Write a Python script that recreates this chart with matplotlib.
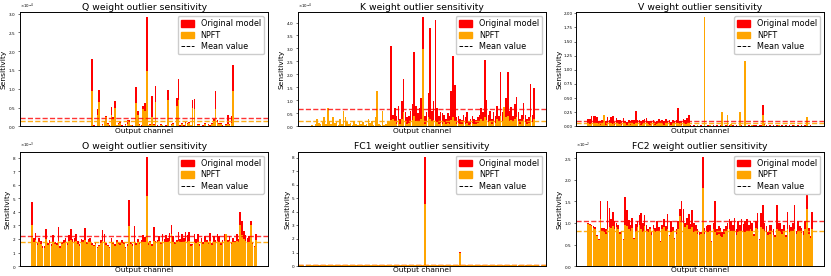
import numpy as np
import matplotlib.pyplot as plt
from matplotlib.patches import Patch
from matplotlib.lines import Line2D

# Sensitivity per output channel (128 channels), values in units of 10^exp
q_orig = [0.005] * 16 + [0.005] * 16 + [
    0.005, 0.005, 1.80, 0.03, 0.02, 0.45, 0.97, 0.02, 0.05, 0.15, 0.27, 0.08, 0.03, 0.52, 0.25, 0.68,
    0.04, 0.08, 0.13, 0.03, 0.02, 0.06, 0.17, 0.17, 0.04, 0.03, 0.02, 1.05, 0.42, 0.05, 0.03, 0.55,
    0.62, 2.90, 0.04, 0.06, 0.80, 0.05, 1.08, 0.03, 0.02, 0.06, 0.04, 0.02, 0.03, 0.97, 0.02, 0.05,
    0.08, 0.02, 0.75, 1.27, 0.03, 0.10, 0.03, 0.12, 0.10, 0.12, 0.04, 0.70, 0.72, 0.02, 0.05, 0.06,
    0.02, 0.03, 0.08, 0.02, 0.05, 0.03, 0.10, 0.20, 0.95, 0.18, 0.08, 0.10, 0.03, 0.02, 0.05, 0.30,
    0.06, 0.27, 1.63] + [0.005] * 13
q_npft = [0.003] * 16 + [0.003] * 16 + [
    0.003, 0.003, 0.95, 0.02, 0.01, 0.30, 0.65, 0.01, 0.03, 0.12, 0.25, 0.05, 0.02, 0.30, 0.20, 0.48,
    0.03, 0.05, 0.08, 0.02, 0.01, 0.04, 0.05, 0.12, 0.03, 0.02, 0.01, 0.63, 0.30, 0.03, 0.02, 0.45,
    0.40, 1.47, 0.03, 0.04, 0.25, 0.03, 0.65, 0.02, 0.01, 0.04, 0.03, 0.01, 0.02, 0.70, 0.01, 0.03,
    0.05, 0.01, 0.55, 0.70, 0.02, 0.07, 0.02, 0.08, 0.07, 0.08, 0.03, 0.50, 0.45, 0.01, 0.03, 0.04,
    0.01, 0.02, 0.05, 0.01, 0.03, 0.02, 0.07, 0.15, 0.45, 0.12, 0.05, 0.07, 0.02, 0.01, 0.03, 0.05,
    0.04, 0.10, 0.93] + [0.003] * 13

k_orig = [
    0.02, 0.03, 0.01, 0.05, 0.15, 0.08, 0.05, 0.10, 0.20, 0.06, 0.40, 0.12, 0.05, 0.20, 0.08, 0.10,
    0.03, 0.18, 0.06, 0.35, 0.22, 0.10, 0.05, 0.08, 0.03, 0.12, 0.06, 0.04, 0.12, 0.05, 0.10, 0.02,
    0.06, 0.18, 0.08, 0.12, 0.04, 0.20, 0.80, 0.06, 0.03, 0.35, 0.03, 0.05, 0.12, 0.10, 3.10, 0.45,
    0.72, 0.40, 0.78, 0.30, 0.98, 1.83, 0.55, 0.35, 0.40, 0.60, 0.88, 2.87, 0.80, 0.50, 0.70, 1.10,
    4.20, 0.40, 0.55, 1.30, 3.77, 0.60, 0.98, 4.10, 0.70, 0.40, 0.55, 0.50, 0.45, 0.30, 0.50, 0.40,
    1.35, 2.70, 1.60, 0.35, 0.40, 0.30, 0.25, 0.45, 0.35, 0.55, 0.20, 0.30, 0.40, 0.30, 0.25, 0.35,
    0.45, 0.70, 0.55, 2.57, 1.00, 0.45, 0.60, 0.30, 0.55, 0.40, 0.80, 0.40, 2.08, 0.55, 0.35, 1.10,
    2.08, 0.60, 0.75, 0.40, 0.85, 1.15, 0.55, 0.30, 0.45, 0.90, 0.45, 0.30, 0.35, 1.63, 0.45, 1.48]
k_npft = [
    0.03, 0.05, 0.02, 0.10, 0.28, 0.12, 0.08, 0.15, 0.35, 0.10, 0.70, 0.20, 0.08, 0.38, 0.12, 0.15,
    0.05, 0.30, 0.10, 0.60, 0.38, 0.15, 0.08, 0.12, 0.05, 0.20, 0.10, 0.06, 0.20, 0.08, 0.15, 0.04,
    0.10, 0.30, 0.12, 0.20, 0.06, 0.35, 1.35, 0.10, 0.05, 0.60, 0.05, 0.08, 0.20, 0.15, 0.25, 0.30,
    0.20, 0.10, 0.25, 0.08, 0.30, 0.55, 0.15, 0.10, 0.12, 0.20, 0.25, 0.40, 0.20, 0.15, 0.18, 0.30,
    2.97, 0.10, 0.15, 0.35, 0.30, 0.15, 0.25, 0.20, 0.15, 0.10, 0.12, 0.08, 0.15, 0.10, 0.12, 0.08,
    0.25, 0.35, 0.20, 0.10, 0.12, 0.08, 0.10, 0.15, 0.08, 0.12, 0.05, 0.10, 0.12, 0.08, 0.10, 0.12,
    0.15, 0.30, 0.20, 0.35, 0.25, 0.15, 0.20, 0.10, 0.15, 0.12, 0.30, 0.15, 0.40, 0.20, 0.75, 0.35,
    0.40, 0.20, 0.25, 0.15, 0.30, 0.35, 0.20, 0.10, 0.15, 0.30, 0.15, 0.10, 0.12, 0.35, 0.15, 0.30]

v_orig = [
    0.13, 0.13, 0.19, 0.18, 0.18, 0.17, 0.10, 0.09, 0.12, 0.15, 0.09, 0.16, 0.11, 0.17, 0.19, 0.08,
    0.15, 0.11, 0.12, 0.10, 0.14, 0.10, 0.08, 0.12, 0.10, 0.11, 0.12, 0.27, 0.11, 0.12, 0.09, 0.11,
    0.13, 0.15, 0.10, 0.09, 0.10, 0.12, 0.08, 0.10, 0.13, 0.10, 0.12, 0.09, 0.13, 0.10, 0.12, 0.08,
    0.11, 0.10, 0.12, 0.32, 0.10, 0.09, 0.13, 0.12, 0.14, 0.20, 0.02, 0.01, 0.02, 0.01, 0.03, 0.01,
    0.02, 0.01, 0.02, 0.01, 0.02, 0.03, 0.01, 0.02, 0.01, 0.02, 0.01, 0.02, 0.03, 0.01, 0.02, 0.01,
    0.02, 0.01, 0.02, 0.01, 0.02, 0.01, 0.03, 0.02, 0.01, 0.02, 0.01, 0.02, 0.01, 0.03, 0.02, 0.02,
    0.01, 0.02, 0.02, 0.37, 0.05, 0.02, 0.01, 0.02, 0.01, 0.02, 0.01, 0.02, 0.03, 0.01, 0.02, 0.01,
    0.02, 0.01, 0.02, 0.01, 0.02, 0.03, 0.01, 0.02, 0.01, 0.02, 0.01, 0.02, 0.03, 0.01, 0.02, 0.01]
v_npft = [
    0.05, 0.04, 0.06, 0.05, 0.05, 0.06, 0.04, 0.03, 0.04, 0.20, 0.03, 0.05, 0.04, 0.06, 0.05, 0.03,
    0.05, 0.04, 0.04, 0.03, 0.05, 0.04, 0.03, 0.04, 0.03, 0.04, 0.05, 0.06, 0.04, 0.05, 0.03, 0.04,
    0.05, 0.06, 0.04, 0.03, 0.04, 0.05, 0.03, 0.04, 0.05, 0.04, 0.05, 0.03, 0.05, 0.04, 0.05, 0.03,
    0.04, 0.04, 0.05, 0.06, 0.04, 0.03, 0.05, 0.04, 0.05, 0.06, 0.01, 0.01, 0.01, 0.01, 0.02, 0.01,
    0.01, 0.01, 1.93, 0.01, 0.01, 0.02, 0.01, 0.01, 0.01, 0.01, 0.01, 0.01, 0.25, 0.01, 0.01, 0.20,
    0.01, 0.05, 0.01, 0.01, 0.01, 0.01, 0.25, 0.01, 0.01, 1.15, 0.01, 0.01, 0.01, 0.02, 0.01, 0.01,
    0.01, 0.01, 0.01, 0.20, 0.02, 0.01, 0.01, 0.01, 0.01, 0.01, 0.01, 0.01, 0.02, 0.01, 0.01, 0.01,
    0.01, 0.01, 0.01, 0.01, 0.01, 0.02, 0.01, 0.01, 0.01, 0.01, 0.01, 0.01, 0.17, 0.01, 0.01, 0.01]

o_orig = [
    4.70, 2.10, 2.45, 1.70, 2.10, 1.85, 1.50, 1.45, 2.70, 1.70, 1.95, 1.60, 2.30, 1.80, 1.70, 2.85,
    1.45, 1.80, 1.90, 2.05, 1.70, 2.30, 2.75, 2.00, 2.05, 2.40, 1.85, 1.60, 2.00, 1.90, 2.80, 1.80,
    2.00, 2.05, 1.70, 1.55, 1.80, 1.40, 1.55, 1.90, 2.65, 2.40, 1.70, 1.55, 1.40, 2.10, 1.80, 1.65,
    1.95, 1.80, 1.70, 1.90, 1.75, 1.40, 1.60, 4.85, 1.80, 1.60, 2.95, 1.70, 2.00, 1.75, 1.90, 2.30,
    2.15, 8.05, 1.70, 1.85, 1.60, 2.90, 1.85, 1.90, 2.20, 1.75, 2.40, 2.00, 2.30, 2.10, 2.45, 3.00,
    2.20, 1.75, 1.95, 2.50, 2.00, 2.40, 2.10, 2.50, 2.30, 2.50, 1.60, 1.65, 2.40, 2.00, 2.40, 1.60,
    2.10, 1.75, 2.25, 1.95, 1.80, 2.45, 1.70, 2.20, 1.95, 2.40, 2.20, 1.70, 1.90, 2.40, 2.20, 1.95,
    2.25, 1.80, 2.10, 1.85, 2.40, 2.00, 4.00, 3.35, 2.60, 2.30, 2.10, 2.20, 3.30, 1.80, 1.50, 2.40]
o_npft = [
    3.00, 1.80, 1.90, 1.55, 1.75, 1.60, 1.35, 1.35, 2.00, 1.55, 1.70, 1.50, 1.80, 1.65, 1.55, 1.85,
    1.30, 1.60, 1.70, 1.75, 1.55, 1.85, 1.90, 1.75, 1.80, 1.85, 1.65, 1.50, 1.75, 1.70, 1.90, 1.60,
    1.75, 1.80, 1.55, 1.45, 1.65, 1.30, 1.45, 1.70, 1.85, 1.80, 1.55, 1.45, 1.30, 1.75, 1.60, 1.50,
    1.70, 1.65, 1.55, 1.70, 1.60, 1.30, 1.45, 2.95, 1.65, 1.50, 1.80, 1.55, 1.75, 1.60, 1.70, 1.80,
    1.80, 5.20, 1.55, 1.70, 1.50, 1.85, 1.70, 1.75, 1.85, 1.60, 1.85, 1.75, 1.80, 1.75, 1.85, 2.40,
    1.80, 1.60, 1.75, 1.85, 1.75, 1.80, 1.75, 1.85, 1.80, 1.85, 1.50, 1.55, 1.80, 1.70, 1.80, 1.50,
    1.75, 1.60, 1.80, 1.70, 1.65, 1.85, 1.55, 1.80, 1.70, 1.85, 1.80, 1.55, 1.70, 1.85, 2.35, 1.75,
    1.85, 1.65, 1.75, 1.70, 1.85, 1.75, 3.00, 2.30, 2.00, 1.85, 1.80, 1.75, 3.00, 1.65, 1.40, 1.95]

fc1_orig = [
    0.08, 0.09, 0.07, 0.08, 0.08, 0.09, 0.08, 0.07, 0.08, 0.09, 0.08, 0.08, 0.07, 0.08, 0.09, 0.08,
    0.08, 0.07, 0.08, 0.09, 0.08, 0.08, 0.07, 0.08, 0.09, 0.08, 0.08, 0.07, 0.08, 0.09, 0.08, 0.08,
    0.07, 0.08, 0.09, 0.08, 0.08, 0.07, 0.08, 0.09, 0.08, 0.08, 0.07, 0.08, 0.09, 0.08, 0.08, 0.07,
    0.08, 0.09, 0.08, 0.08, 0.07, 0.08, 0.09, 0.08, 0.08, 0.07, 0.08, 0.09, 0.08, 0.08, 0.07, 0.08,
    0.09, 8.05, 0.08, 0.07, 0.08, 0.09, 0.08, 0.08, 0.07, 0.08, 0.09, 0.08, 0.08, 0.07, 0.08, 0.09,
    0.08, 0.08, 0.07, 0.08, 0.09, 1.05, 0.08, 0.07, 0.08, 0.09, 0.08, 0.08, 0.07, 0.08, 0.09, 0.08,
    0.08, 0.07, 0.08, 0.09, 0.08, 0.08, 0.07, 0.08, 0.09, 0.08, 0.08, 0.07, 0.08, 0.09, 0.08, 0.08,
    0.07, 0.08, 0.09, 0.08, 0.08, 0.07, 0.08, 0.09, 0.08, 0.08, 0.07, 0.08, 0.09, 0.08, 0.08, 0.07]
fc1_npft = [
    0.06, 0.07, 0.05, 0.06, 0.06, 0.07, 0.06, 0.05, 0.06, 0.07, 0.06, 0.06, 0.05, 0.06, 0.07, 0.06,
    0.06, 0.05, 0.06, 0.07, 0.06, 0.06, 0.05, 0.06, 0.07, 0.06, 0.06, 0.05, 0.06, 0.07, 0.06, 0.06,
    0.05, 0.06, 0.07, 0.06, 0.06, 0.05, 0.06, 0.07, 0.06, 0.06, 0.05, 0.06, 0.07, 0.06, 0.06, 0.05,
    0.06, 0.07, 0.06, 0.06, 0.05, 0.06, 0.07, 0.06, 0.06, 0.05, 0.06, 0.07, 0.06, 0.06, 0.05, 0.06,
    0.07, 4.60, 0.06, 0.05, 0.06, 0.07, 0.06, 0.06, 0.05, 0.06, 0.07, 0.06, 0.06, 0.05, 0.06, 0.07,
    0.06, 0.06, 0.05, 0.06, 0.07, 0.95, 0.06, 0.05, 0.06, 0.07, 0.06, 0.06, 0.05, 0.06, 0.07, 0.06,
    0.06, 0.05, 0.06, 0.07, 0.06, 0.06, 0.05, 0.06, 0.07, 0.06, 0.06, 0.05, 0.06, 0.07, 0.06, 0.06,
    0.05, 0.06, 0.07, 0.06, 0.06, 0.05, 0.06, 0.07, 0.06, 0.06, 0.05, 0.06, 0.07, 0.06, 0.06, 0.05]

fc2_orig = [
    1.00, 0.98, 0.95, 0.92, 0.90, 0.72, 0.62, 1.52, 0.88, 0.88, 0.85, 1.52, 1.35, 1.10, 1.25, 1.05,
    1.00, 0.95, 0.80, 0.82, 0.62, 1.60, 1.30, 1.08, 0.95, 1.12, 0.65, 0.98, 1.05, 1.18, 1.22, 1.00,
    1.18, 0.95, 0.85, 0.90, 0.78, 0.95, 0.88, 1.05, 0.90, 0.58, 0.95, 1.10, 0.92, 1.20, 0.72, 1.05,
    0.90, 0.65, 0.85, 1.05, 1.32, 1.50, 1.32, 1.00, 1.12, 1.20, 0.98, 1.30, 1.00, 0.95, 0.85, 0.80,
    0.80, 2.53, 0.88, 0.92, 0.95, 0.95, 0.58, 1.00, 1.50, 0.85, 0.92, 0.88, 0.80, 0.85, 0.92, 1.00,
    1.10, 1.05, 0.95, 1.12, 0.85, 1.05, 0.95, 1.10, 0.98, 1.05, 1.10, 0.95, 1.05, 1.00, 0.75, 1.05,
    1.22, 0.62, 1.22, 1.42, 1.00, 0.92, 0.80, 0.95, 0.95, 0.85, 0.72, 1.42, 1.00, 1.00, 0.85, 0.95,
    0.72, 1.25, 0.95, 0.90, 1.00, 1.42, 0.82, 1.05, 0.92, 0.88, 0.82, 1.05, 1.83, 0.88, 0.70, 1.25]
fc2_npft = [
    0.98, 0.96, 0.93, 0.88, 0.85, 0.70, 0.60, 1.10, 0.80, 0.78, 0.75, 0.85, 0.90, 0.88, 0.92, 0.85,
    0.90, 0.85, 0.75, 0.78, 0.60, 0.95, 0.92, 0.85, 0.80, 0.88, 0.63, 0.80, 0.90, 0.95, 0.85, 0.80,
    0.92, 0.82, 0.78, 0.85, 0.72, 0.85, 0.80, 0.82, 0.78, 0.56, 0.85, 0.90, 0.82, 0.85, 0.70, 0.80,
    0.78, 0.62, 0.75, 0.85, 1.15, 1.05, 1.00, 0.90, 0.95, 0.85, 0.85, 0.90, 0.80, 0.78, 0.75, 0.72,
    0.75, 1.80, 0.75, 0.78, 0.80, 0.82, 0.55, 0.85, 0.78, 0.72, 0.75, 0.70, 0.68, 0.75, 0.78, 0.85,
    0.85, 0.82, 0.78, 0.80, 0.72, 0.80, 0.78, 0.82, 0.80, 0.78, 0.82, 0.80, 0.85, 0.82, 0.70, 0.88,
    0.85, 0.60, 0.90, 0.85, 0.80, 0.78, 0.72, 0.75, 0.80, 0.72, 0.68, 0.85, 0.82, 0.78, 0.75, 0.80,
    0.68, 0.85, 0.80, 0.78, 0.82, 0.85, 0.75, 0.80, 0.78, 0.76, 0.72, 0.85, 1.33, 0.75, 0.65, 0.85]

names = ['Q', 'K', 'V', 'O', 'FC1', 'FC2']
orig_data = [q_orig, k_orig, v_orig, o_orig, fc1_orig, fc2_orig]
npft_data = [q_npft, k_npft, v_npft, o_npft, fc1_npft, fc2_npft]
exponents = [-4, -4, 0, -3, 0, -2]
# mean values
orig_means = [0.23, 0.68, 0.09, 2.22, 0.11, 1.05]
npft_means = [0.13, 0.20, 0.055, 1.78, 0.09, 0.82]

fig, axs = plt.subplots(nrows=2, ncols=3, figsize=(8.31, 2.76), dpi=100)
axs = axs.flatten()

for i, ax in enumerate(axs):
    scale = 10.0 ** exponents[i]
    orig = np.array(orig_data[i]) * scale
    npft = np.array(npft_data[i]) * scale
    x = np.arange(len(orig))
    ax.bar(x, orig, width=0.9, color='red')
    ax.bar(x, npft, width=0.9, color='orange')
    ax.axhline(orig_means[i] * scale, color='red', linestyle='--', linewidth=1.0, alpha=0.8)
    ax.axhline(npft_means[i] * scale, color='orange', linestyle='--', linewidth=1.0, alpha=0.9)

    ax.set_title(f'{names[i]} weight outlier sensitivity', fontsize=6.7, pad=1.5)
    ax.set_xlabel('Output channel', fontsize=5.4, labelpad=1)
    ax.set_ylabel('Sensitivity', fontsize=5.4, labelpad=1)
    ax.set_xticks([])
    ax.tick_params(axis='y', labelsize=3, length=1.5, width=0.4, pad=1)
    if exponents[i] != 0:
        ax.ticklabel_format(axis='y', style='sci', scilimits=(0, 0), useMathText=True)
        ax.yaxis.get_offset_text().set_fontsize(2.8)
    for spine in ax.spines.values():
        spine.set_linewidth(0.7)

    handles = [Patch(color='red', label='Original model'),
               Patch(color='orange', label='NPFT'),
               Line2D([0], [0], color='black', linestyle='--', linewidth=0.7, label='Mean value')]
    ax.legend(handles=handles, loc='upper right', fontsize=5.9, handlelength=1.6,
              handleheight=0.8, borderpad=0.4, labelspacing=0.3, framealpha=1.0)

fig.subplots_adjust(left=0.024, right=0.992, top=0.957, bottom=0.036, wspace=0.12, hspace=0.22)
fig.savefig('out.png', dpi=100)
